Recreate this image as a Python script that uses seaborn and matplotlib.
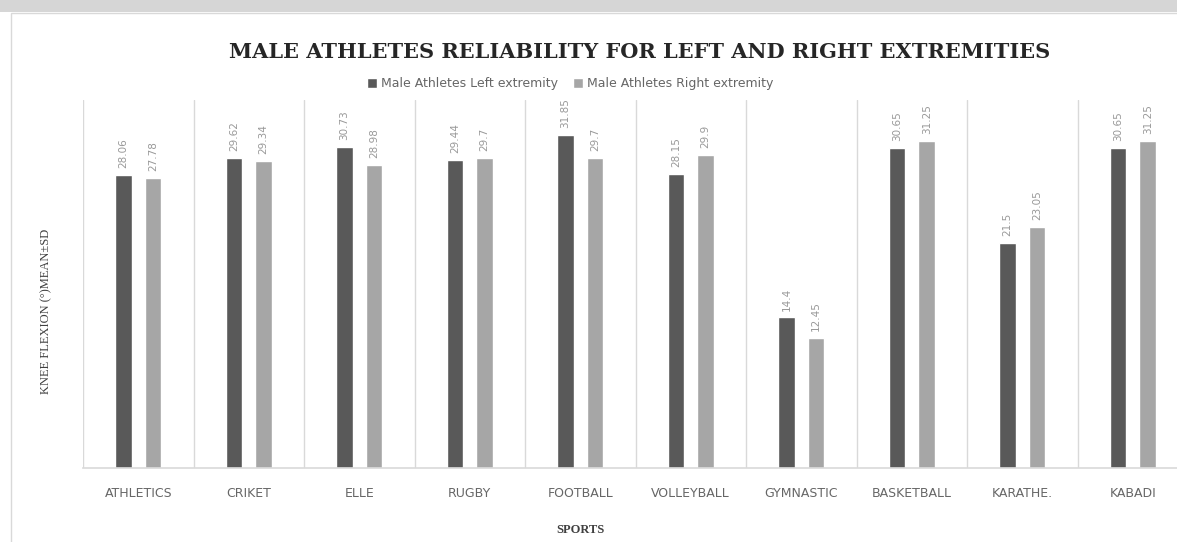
import pandas as pd
import numpy as np
import matplotlib
matplotlib.use("Agg")
import matplotlib.pyplot as plt
import seaborn as sns
from matplotlib.patches import Rectangle
from matplotlib.ticker import FixedLocator

# datos
sports = ["ATHLETICS", "CRIKET", "ELLE", "RUGBY", "FOOTBALL", "VOLLEYBALL",
          "GYMNASTIC", "BASKETBALL", "KARATHE.", "KABADI"]
left_ext = [28.06, 29.62, 30.73, 29.44, 31.85, 28.15, 14.4, 30.65, 21.5, 30.65]
right_ext = [27.78, 29.34, 28.98, 29.7, 29.7, 29.9, 12.45, 31.25, 23.05, 31.25]
series = ["Male Athletes Left extremity", "Male Athletes Right extremity"]

df = pd.DataFrame({
    "sport": sports * 2,
    "value": left_ext + right_ext,
    "serie": [series[0]] * len(sports) + [series[1]] * len(sports),
})

sns.set_style("white")
fig = plt.figure(figsize=(11.77, 5.42), dpi=100)

# marco y franja superior
fig.patches.append(Rectangle((0, 1 - 12 / 542), 1, 12 / 542, transform=fig.transFigure,
                             facecolor="#d6d6d6", edgecolor="none", zorder=-2))
fig.patches.append(Rectangle((11 / 1177, -0.05), 1.1, 1 - 13 / 542 + 0.05,
                             transform=fig.transFigure, facecolor="white",
                             edgecolor="#d9d9d9", linewidth=1.0, zorder=-1))

ax = fig.add_axes([83 / 1177, 74 / 542, 1105 / 1177, 368 / 542])
ax.set_zorder(2)
ax.set_facecolor("none")
sns.barplot(data=df, x="sport", y="value", hue="serie", order=sports,
            palette=["#595959", "#a6a6a6"], width=0.54, gap=0.45,
            saturation=1, ax=ax, legend=True)

for cont in ax.containers:
    ax.bar_label(cont, fmt="%g", rotation=90, padding=5, fontsize=7.5,
                 color="#999999")

ax.set_xlim(-0.5, len(sports) - 0.5)
ax.set_ylim(0, 35.2)
ax.set_yticks([])
ax.set_ylabel("")
ax.set_xlabel("")
for s in ["top", "right", "left"]:
    ax.spines[s].set_visible(False)
ax.spines["bottom"].set_color("#d9d9d9")
ax.spines["bottom"].set_linewidth(1.2)

# separadores entre categorias
ax.xaxis.set_minor_locator(FixedLocator(np.arange(-0.5, len(sports), 1.0)))
ax.grid(True, which="minor", axis="x", color="#d9d9d9", linewidth=1.0)
ax.set_axisbelow(True)
ax.tick_params(axis="x", which="both", length=0, pad=14, labelsize=9,
               labelcolor="#666666")

handles, labels = ax.get_legend_handles_labels()
ax.legend_.remove()
fig.legend(handles, labels, loc="center", bbox_to_anchor=(570 / 1177, 1 - 84 / 542),
           ncol=2, frameon=False, fontsize=9, labelcolor="#666666",
           handlelength=0.8, handleheight=0.8, handletextpad=0.3, columnspacing=1.2)

fig.text(640 / 1177, 1 - 52 / 542,
         "MALE ATHLETES RELIABILITY FOR LEFT AND RIGHT EXTREMITIES",
         ha="center", va="center", fontsize=15, fontweight="bold",
         family="DejaVu Serif", color="#262626")
fig.text(46 / 1177, 1 - 311 / 542, "KNEE FLEXION (°)MEAN±SD", rotation=90,
         ha="center", va="center", fontsize=9, family="Liberation Serif",
         color="#404040")
fig.text(580 / 1177, 1 - 530 / 542, "SPORTS", ha="center", va="center",
         fontsize=9, family="Liberation Serif", fontweight="bold", color="#404040")

fig.savefig("out.png", dpi=100)
